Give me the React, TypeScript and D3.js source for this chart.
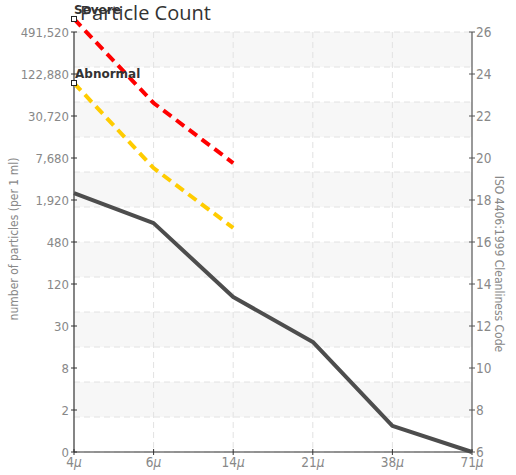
import * as d3 from "d3";

const WIDTH = 516;
const HEIGHT = 475;
const MARGIN = { top: 32, right: 44, bottom: 23, left: 74 };

// particle size classes
const sizes = ["4", "6", "14", "21", "38", "71"];
// ISO codes
const measured = [18.33, 16.9, 13.38, 11.24, 7.24, 6];
const abnormal = [23.57, 19.52, 16.67];
const severe = [26.62, 22.62, 19.76];
// right axis ticks and matching left axis labels
const codeTicks = [6, 8, 10, 12, 14, 16, 18, 20, 22, 24, 26];
const countLabels = ["0", "2", "8", "30", "120", "480", "1,920", "7,680", "30,720", "122,880", "491,520"];

const FONT = "'Liberation Sans Narrow', 'DejaVu Sans Condensed', sans-serif";

export default function App() {
  const x = d3.scalePoint<string>().domain(sizes).range([MARGIN.left, WIDTH - MARGIN.right]);
  const y = d3.scaleLinear().domain([6, 26]).range([HEIGHT - MARGIN.bottom, MARGIN.top]);
  const gridValues = d3.range(13).map((i) => 26 - (i * 20) / 12);

  const line = (values: number[]) =>
    d3
      .line<number>()
      .x((_, i) => x(sizes[i]) ?? 0)
      .y((v) => y(v))(values) ?? "";

  const left = MARGIN.left;
  const right = WIDTH - MARGIN.right;

  return (
    <svg
      width={WIDTH}
      height={HEIGHT}
      style={{ position: "absolute", left: 0, top: 0, display: "block", background: "#fff" }}
    >
      {/* alternating bands */}
      {gridValues.slice(0, -1).map((v, i) =>
        i % 2 === 0 ? (
          <rect key={`b${i}`} x={left} y={y(v)} width={right - left} height={y(gridValues[i + 1]) - y(v)} fill="#f7f7f7" />
        ) : null
      )}
      {gridValues.map((v, i) => (
        <line key={`g${i}`} x1={left} x2={right} y1={y(v)} y2={y(v)} stroke="#e2e2e2" strokeDasharray="6,4" />
      ))}
      {sizes.slice(1, -1).map((s) => (
        <line key={`v${s}`} x1={x(s)} x2={x(s)} y1={y(26)} y2={y(6)} stroke="#e2e2e2" strokeDasharray="6,4" />
      ))}

      {/* axes */}
      <line x1={left} x2={left} y1={y(26)} y2={y(6)} stroke="#333" strokeWidth={1.2} />
      <line x1={right} x2={right} y1={y(26)} y2={y(6)} stroke="#555" strokeWidth={1.2} />
      <line x1={left} x2={right} y1={y(6)} y2={y(6)} stroke="#333" strokeWidth={1.2} />

      {codeTicks.map((c, i) => (
        <g key={`t${c}`}>
          <line x1={left - 3} x2={left + 3} y1={y(c)} y2={y(c)} stroke="#333" />
          <text x={left - 5} y={y(c)} dy="0.35em" textAnchor="end" fontFamily={FONT} fontSize={13} fill="#888">
            {countLabels[i]}
          </text>
          <line x1={right - 3} x2={right + 3} y1={y(c)} y2={y(c)} stroke="#555" />
          <text x={right + 4} y={y(c)} dy="0.35em" fontFamily={FONT} fontSize={13.5} fill="#888">
            {c}
          </text>
        </g>
      ))}
      {sizes.map((s) => (
        <g key={`x${s}`}>
          <line x1={x(s)} x2={x(s)} y1={y(6) - 3} y2={y(6) + 3} stroke="#333" />
          <text x={x(s)} y={y(6) + 15} textAnchor="middle" fontFamily={FONT} fontSize={13.5} fill="#888">
            {s}
            <tspan fontStyle="italic">μ</tspan>
          </text>
        </g>
      ))}

      <text
        transform={`translate(18,239) rotate(-90)`}
        textAnchor="middle"
        fontFamily={FONT}
        fontSize={12}
        fill="#888"
      >
        number of particles (per 1 ml)
      </text>
      <text
        transform={`translate(495,264) rotate(90)`}
        textAnchor="middle"
        fontFamily={FONT}
        fontSize={12}
        fill="#888"
      >
        ISO 4406:1999 Cleanliness Code
      </text>

      {/* series */}
      <path d={line(measured)} fill="none" stroke="#4d4d4d" strokeWidth={4} strokeLinejoin="round" />
      <path d={line(abnormal)} fill="none" stroke="#ffcc00" strokeWidth={4} strokeDasharray="10,6" />
      <path d={line(severe)} fill="none" stroke="#ff0000" strokeWidth={4} strokeDasharray="10,6" />

      {/* limit labels */}
      <text x={left} y={y(severe[0]) - 5} fontFamily="'DejaVu Sans', sans-serif" fontWeight="bold" fontSize={12} fill="#333">
        Severe
      </text>
      <rect x={left - 2.5} y={y(severe[0]) - 2.5} width={5} height={5} fill="#fff" stroke="#222" />
      <text x={left + 1} y={y(abnormal[0]) - 5} fontFamily="'DejaVu Sans', sans-serif" fontWeight="bold" fontSize={12} fill="#333">
        Abnormal
      </text>
      <rect x={left - 2.5} y={y(abnormal[0]) - 2.5} width={5} height={5} fill="#fff" stroke="#222" />

      <text x={80} y={20} fontFamily="'Open Sans', sans-serif" fontSize={20} fill="#333">
        Particle Count
      </text>
    </svg>
  );
}
